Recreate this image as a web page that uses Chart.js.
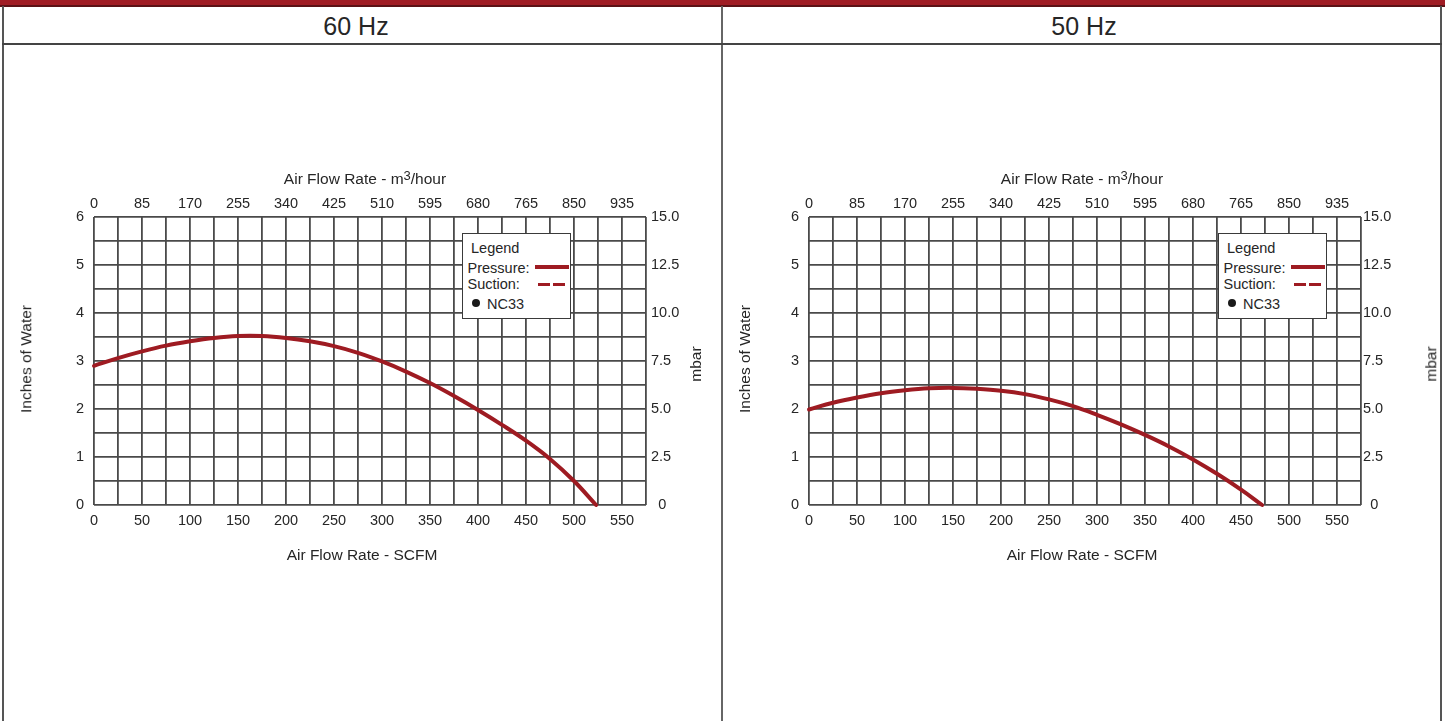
<!DOCTYPE html>
<html>
<head>
<meta charset="utf-8">
<script src="https://cdn.jsdelivr.net/npm/chart.js@4.4.1/dist/chart.umd.min.js"></script>
<style>
body{margin:0;background:#fff;font-family:"Liberation Sans",Arial,sans-serif;color:#262626;}
#page{position:relative;width:1445px;height:721px;overflow:hidden;background:#fff;}
canvas{position:absolute;top:44px;}
.ln{position:absolute;}
.t{position:absolute;white-space:nowrap;font-size:15.5px;line-height:1;transform:translate(-50%,-50%);}
.rot{transform:translate(-50%,-50%) rotate(-90deg);}
.hz{font-size:25px;}
sup{font-size:13px;vertical-align:4px;line-height:0;}
.lgd{position:absolute;width:107px;height:84px;border:1px solid #3a3a3a;background:#fff;font-size:14.5px;}
.lgd span{position:absolute;white-space:nowrap;line-height:1;transform:translateY(-50%);}
.lgd i{position:absolute;height:3.5px;background:#9e1b22;}
.lgd b{position:absolute;width:8px;height:8px;border-radius:50%;background:#1a1a1a;}
</style>
</head>
<body>
<div id="page">
  <canvas id="chart60" width="722" height="677" style="left:0px"></canvas>
  <canvas id="chart50" width="723" height="677" style="left:722px"></canvas>

  <!-- frame -->
  <div class="ln" style="left:0;top:0;width:1445px;height:5px;background:#a01c24"></div>
  <div class="ln" style="left:0;top:5px;width:1445px;height:1.5px;background:#5c1116"></div>
  <div class="ln" style="left:2px;top:6px;width:1.5px;height:715px;background:#555"></div>
  <div class="ln" style="left:721px;top:6px;width:2px;height:715px;background:#666"></div>
  <div class="ln" style="left:1440px;top:6px;width:1.5px;height:715px;background:#555"></div>
  <div class="ln" style="left:2px;top:42.5px;width:1440px;height:2px;background:#444"></div>

  <div class="t hz" style="left:356px;top:25.5px">60 Hz</div>
  <div class="t hz" style="left:1084px;top:25.5px">50 Hz</div>

  <!-- 60 Hz titles -->
  <div class="t" style="left:365px;top:179px">Air Flow Rate - m<sup>3</sup>/hour</div>
  <div class="t" style="left:362px;top:555px">Air Flow Rate - SCFM</div>
  <div class="t rot" style="left:26px;top:359px">Inches of Water</div>
  <div class="t rot" style="left:696px;top:364px">mbar</div>

  <!-- 50 Hz titles -->
  <div class="t" style="left:1082px;top:179px">Air Flow Rate - m<sup>3</sup>/hour</div>
  <div class="t" style="left:1082px;top:555px">Air Flow Rate - SCFM</div>
  <div class="t rot" style="left:745px;top:359px">Inches of Water</div>
  <div class="t rot" style="left:1431px;top:364px">mbar</div>

  <!-- legends -->
  <div class="lgd" style="left:461.5px;top:233px">
    <span style="left:8.5px;top:13.7px">Legend</span>
    <span style="left:5px;top:33.7px">Pressure:</span>
    <i style="left:72px;top:31px;width:34px"></i>
    <span style="left:5px;top:49.7px">Suction:</span>
    <i style="left:75px;top:48.5px;width:12px"></i>
    <i style="left:90.5px;top:48.5px;width:12px"></i>
    <b style="left:9px;top:64.5px"></b>
    <span style="left:24.5px;top:70px">NC33</span>
  </div>
  <div class="lgd" style="left:1217.5px;top:233px">
    <span style="left:8.5px;top:13.7px">Legend</span>
    <span style="left:5px;top:33.7px">Pressure:</span>
    <i style="left:72px;top:31px;width:34px"></i>
    <span style="left:5px;top:49.7px">Suction:</span>
    <i style="left:75px;top:48.5px;width:12px"></i>
    <i style="left:90.5px;top:48.5px;width:12px"></i>
    <b style="left:9px;top:64.5px"></b>
    <span style="left:24.5px;top:70px">NC33</span>
  </div>
</div>

<script>
// values (inches of water vs SCFM)
var scfm60 = [0, 25, 50, 75, 100, 125, 150, 175, 200, 225, 250, 275, 300, 325, 350, 375, 400, 425, 450, 475, 500, 523];
var inches60 = [2.90, 3.06, 3.20, 3.32, 3.41, 3.48, 3.52, 3.52, 3.48, 3.41, 3.31, 3.17, 2.99, 2.78, 2.54, 2.27, 1.98, 1.67, 1.34, 0.96, 0.50, 0];

var scfm50 = [0, 25, 50, 75, 100, 125, 150, 175, 200, 225, 250, 275, 300, 325, 350, 375, 400, 425, 450, 472];
var inches50 = [1.99, 2.13, 2.24, 2.33, 2.39, 2.43, 2.44, 2.42, 2.38, 2.31, 2.20, 2.06, 1.88, 1.68, 1.46, 1.22, 0.95, 0.65, 0.32, 0];

// tick labels
var scfmLabels = ['0', '50', '100', '150', '200', '250', '300', '350', '400', '450', '500', '550'];
var m3hLabels = ['0', '85', '170', '255', '340', '425', '510', '595', '680', '765', '850', '935'];
var inchLabels = ['0', '1', '2', '3', '4', '5', '6'];
var mbarLabels = ['0', '2.5', '5.0', '7.5', '10.0', '12.5', '15.0'];

var RED = '#9e1b22';
var GRID = '#4a4a4a';
var TXT = '#262626';
var tickFont = {family: '"Liberation Sans", Arial, sans-serif', size: 14.5};

//sets the size of an axis box so the plot area lands where it should
function fixSize(prop, val){
    return function(scale){ scale[prop] = val; };
}

function makeChart(id, xs, ys, box){
    var pts = [];
    for(var i = 0; i < xs.length; i++){
        pts.push({x: xs[i], y: ys[i]});
    }
    var ctx = document.getElementById(id).getContext('2d');
    return new Chart(ctx, {
        type: 'line',
        data: {
            datasets: [{
                data: pts,
                borderColor: RED,
                borderWidth: 4,
                pointRadius: 0,
                tension: 0.4,
                borderCapStyle: 'round',
                fill: false,
                clip: false
            }]
        },
        options: {
            responsive: false,
            animation: false,
            devicePixelRatio: 1,
            events: [],
            layout: {padding: 0},
            plugins: {legend: {display: false}, tooltip: {enabled: false}},
            scales: {
                x: {
                    type: 'linear', position: 'bottom', min: 0, max: 575,
                    afterFit: fixSize('height', box.bottom),
                    ticks: {stepSize: 25, autoSkip: false, maxRotation: 0, padding: 7, color: TXT, font: tickFont,
                        callback: function(v, i){ return i % 2 === 0 ? (scfmLabels[i / 2] || '') : ''; }},
                    grid: {color: GRID, lineWidth: 1.8, drawTicks: false},
                    border: {display: false}
                },
                x2: {
                    type: 'linear', position: 'top', min: 0, max: 575,
                    afterFit: fixSize('height', box.top),
                    ticks: {stepSize: 25, autoSkip: false, maxRotation: 0, padding: 4, color: TXT, font: tickFont,
                        callback: function(v, i){ return i % 2 === 0 ? (m3hLabels[i / 2] || '') : ''; }},
                    grid: {display: false, drawTicks: false},
                    border: {display: false}
                },
                y: {
                    type: 'linear', position: 'left', min: 0, max: 6,
                    afterFit: fixSize('width', box.left),
                    ticks: {stepSize: 0.5, autoSkip: false, padding: 10, color: TXT, font: tickFont,
                        callback: function(v, i){ return i % 2 === 0 ? inchLabels[i / 2] : ''; }},
                    grid: {color: GRID, lineWidth: 1.8, drawTicks: false},
                    border: {display: false}
                },
                y2: {
                    type: 'linear', position: 'right', min: 0, max: 15,
                    afterFit: fixSize('width', box.right),
                    ticks: {stepSize: 2.5, autoSkip: false, padding: box.rightPad, color: TXT, font: tickFont,
                        callback: function(v, i){ return i === 0 ? '\u2002' + mbarLabels[0] : mbarLabels[i]; }},
                    grid: {display: false, drawTicks: false},
                    border: {display: false}
                }
            }
        }
    });
}

makeChart('chart60', scfm60, inches60, {left: 94, right: 76, top: 173, bottom: 216, rightPad: 5});
makeChart('chart50', scfm50, inches50, {left: 87, right: 84, top: 173, bottom: 216, rightPad: 2});
</script>
</body>
</html>
